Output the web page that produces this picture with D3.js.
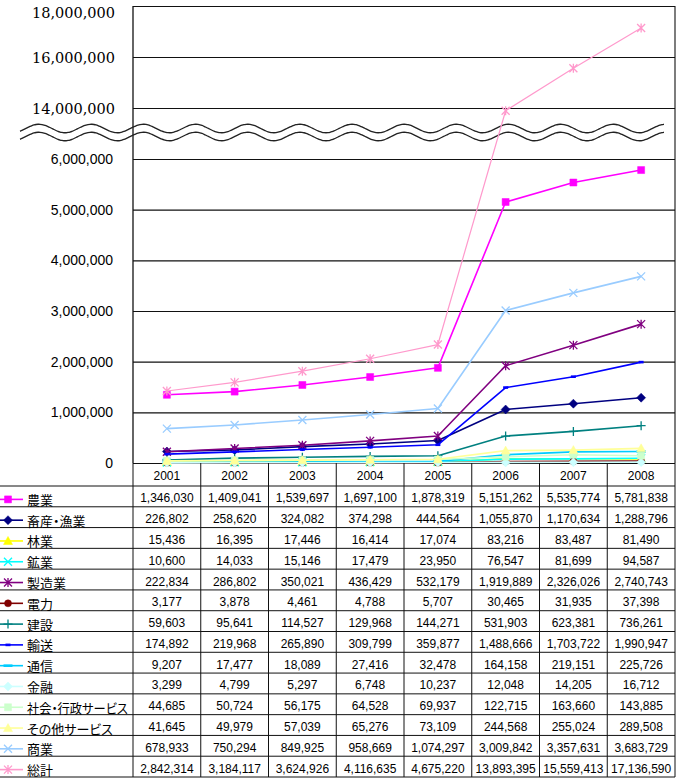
<!DOCTYPE html>
<meta charset="utf-8">
<style>
body { margin: 0; background: #fff; }
.grid line { stroke: #111; stroke-width: 1.1; }
.tbl line { stroke: #111; stroke-width: 1; }
.num { font-family: "Liberation Sans", Arial, sans-serif; font-size: 12px; fill: #000; }
.lab { font-family: "Noto Sans CJK JP", sans-serif; font-size: 13px; font-feature-settings: "palt"; fill: #000; }
</style>
<svg width="678" height="783"></svg>
<script src="https://d3js.org/d3.v7.min.js"></script>
<script>
var years = ["2001", "2002", "2003", "2004", "2005", "2006", "2007", "2008"];

var agriculture   = [1346030, 1409041, 1539697, 1697100, 1878319, 5151262, 5535774, 5781838];
var livestock     = [226802, 258620, 324082, 374298, 444564, 1055870, 1170634, 1288796];
var forestry      = [15436, 16395, 17446, 16414, 17074, 83216, 83487, 81490];
var mining        = [10600, 14033, 15146, 17479, 23950, 76547, 81699, 94587];
var manufacturing = [222834, 286802, 350021, 436429, 532179, 1919889, 2326026, 2740743];
var power         = [3177, 3878, 4461, 4788, 5707, 30465, 31935, 37398];
var construction  = [59603, 95641, 114527, 129968, 144271, 531903, 623381, 736261];
var transport     = [174892, 219968, 265890, 309799, 359877, 1488666, 1703722, 1990947];
var telecom       = [9207, 17477, 18089, 27416, 32478, 164158, 219151, 225726];
var finance       = [3299, 4799, 5297, 6748, 10237, 12048, 14205, 16712];
var socialSvc     = [44685, 50724, 56175, 64528, 69937, 122715, 163660, 143885];
var otherSvc      = [41645, 49979, 57039, 65276, 73109, 244568, 255024, 289508];
var commerce      = [678933, 750294, 849925, 958669, 1074297, 3009842, 3357631, 3683729];
var total         = [2842314, 3184117, 3624926, 4116635, 4675220, 13893395, 15559413, 17136590];
// the total line as it is plotted in the picture (2001-2005 sit lower than the table says)
var totalPlotted  = [1421000, 1592000, 1812000, 2058000, 2338000, 13893395, 15559413, 17136590];

var lowTicks  = [0, 1000000, 2000000, 3000000, 4000000, 5000000, 6000000];
var highTicks = [14000000, 16000000, 18000000];

var series = [
  { name: "農業",           table: agriculture,   plot: agriculture,   color: "#FF00FF", mark: "square" },
  { name: "畜産・漁業",     table: livestock,     plot: livestock,     color: "#000080", mark: "diamond" },
  { name: "林業",           table: forestry,      plot: forestry,      color: "#FFFF00", mark: "triangle" },
  { name: "鉱業",           table: mining,        plot: mining,        color: "#00FFFF", mark: "x" },
  { name: "製造業",         table: manufacturing, plot: manufacturing, color: "#800080", mark: "star" },
  { name: "電力",           table: power,         plot: power,         color: "#800000", mark: "circle" },
  { name: "建設",           table: construction,  plot: construction,  color: "#008080", mark: "plus" },
  { name: "輸送",           table: transport,     plot: transport,     color: "#0000FF", mark: "dash" },
  { name: "通信",           table: telecom,       plot: telecom,       color: "#00CCFF", mark: "longdash" },
  { name: "金融",           table: finance,       plot: finance,       color: "#CCFFFF", mark: "diamond" },
  { name: "社会・行政サービス", table: socialSvc, plot: socialSvc,     color: "#CCFFCC", mark: "square" },
  { name: "その他サービス", table: otherSvc,      plot: otherSvc,      color: "#FFFF99", mark: "triangle" },
  { name: "商業",           table: commerce,      plot: commerce,      color: "#99CCFF", mark: "x" },
  { name: "総計",           table: total,         plot: totalPlotted,  color: "#FF99CC", mark: "star" }
];

var svg = d3.select("svg");
var left = 133, right = 675;
var fmt = d3.format(",");

// broken value axis: lower part 0..6M, upper part 14M..18M
var yLo = d3.scaleLinear().domain([0, 6000000]).range([463, 159]);
var yHi = d3.scaleLinear().domain([14000000, 18000000]).range([108, 6]);
function y(v) { return v > 6000000 ? yHi(v) : yLo(v); }

var x = d3.scaleBand().domain(years).range([left, right]);
function cx(d) { return x(d) + x.bandwidth() / 2; }

// gridlines + labels
var gLo = svg.append("g").attr("class", "grid")
    .attr("transform", "translate(" + left + ",0)")
    .call(d3.axisLeft(yLo).tickValues(lowTicks).tickFormat(fmt)
      .tickSize(-(right - left)).tickPadding(20));
gLo.select(".domain").remove();
gLo.attr("font-family", null).attr("font-size", null);
gLo.selectAll(".tick text")
    .style("font-family", "'Liberation Sans', Arial, sans-serif")
    .style("font-size", "14px").style("fill", "#000");

var gHi = svg.append("g").attr("class", "grid")
    .attr("transform", "translate(" + left + ",0)")
    .call(d3.axisLeft(yHi).tickValues(highTicks).tickFormat(fmt)
      .tickSize(-(right - left)).tickPadding(18));
gHi.select(".domain").remove();
gHi.attr("font-family", null).attr("font-size", null);
gHi.selectAll(".tick text")
    .style("font-family", "'DejaVu Serif', 'Liberation Serif', serif")
    .style("font-size", "14.5px").style("fill", "#000")
    .attr("y", function(d) { return d === 18000000 ? 7 : 1; });

svg.append("line").attr("x1", left).attr("x2", left).attr("y1", yHi(18000000)).attr("y2", yLo(0))
    .attr("stroke", "#111").attr("stroke-width", 1.3);
svg.append("line").attr("x1", right).attr("x2", right).attr("y1", yHi(18000000)).attr("y2", yLo(0))
    .attr("stroke", "#111").attr("stroke-width", 1.1);

// break marks
var wave = d3.line().curve(d3.curveBasis);
[128.5, 136.5].forEach(function(c) {
  var pts = d3.range(20, 666, 2).map(function(px) {
    return [px, c - 4.3 * Math.cos(2 * Math.PI * (px - 143.3) / 52.2)];
  });
  svg.append("path").attr("d", wave(pts)).attr("fill", "none")
    .attr("stroke", "#222").attr("stroke-width", 1.3);
});

// markers
var markPaths = {
  square:   "M-3.5,-3.5h7v7h-7Z",
  diamond:  "M0,-4.5L4.5,0L0,4.5L-4.5,0Z",
  triangle: "M0,-4.5L4.5,3.5L-4.5,3.5Z",
  circle:   "M3.5,0A3.5,3.5 0 1,1 -3.5,0A3.5,3.5 0 1,1 3.5,0Z",
  x:        "M-4,-4L4,4M4,-4L-4,4",
  star:     "M-4,-4L4,4M4,-4L-4,4M0,-4.5V4.5",
  plus:     "M-4.5,0H4.5M0,-4.5V4.5",
  dash:     "M-2.5,0H2.5",
  longdash: "M-4.5,0H4.5"
};
function drawMark(g, s) {
  var filled = ["square", "diamond", "triangle", "circle"].indexOf(s.mark) >= 0;
  var dashy = s.mark === "dash" || s.mark === "longdash";
  g.append("path").attr("d", markPaths[s.mark])
    .attr("fill", filled ? s.color : "none")
    .attr("stroke", s.color)
    .attr("stroke-width", dashy ? 2.6 : (filled ? 0.5 : 1.3));
}

// series lines
var line = d3.line().x(function(d, i) { return cx(years[i]); }).y(function(d) { return y(d); });
series.forEach(function(s) {
  var g = svg.append("g");
  g.append("path").attr("d", line(s.plot)).attr("fill", "none")
    .attr("stroke", s.color).attr("stroke-width", s.name === "総計" ? 1.2 : 1.6)
    .attr("stroke-linejoin", "round");
  s.plot.forEach(function(v, i) {
    drawMark(g.append("g").attr("transform", "translate(" + cx(years[i]) + "," + y(v) + ")"), s);
  });
});

// data table
var tableTop = 463, headBottom = 486, tableBottom = 777;
var rows = d3.scaleBand().domain(series.map(function(s) { return s.name; }))
    .range([headBottom, tableBottom]);
var tbl = svg.append("g").attr("class", "tbl");

years.concat(["end"]).forEach(function(d, i) {
  var px = i < years.length ? x(d) : right;
  tbl.append("line").attr("x1", px).attr("x2", px).attr("y1", tableTop).attr("y2", tableBottom);
});
series.forEach(function(s) {
  tbl.append("line").attr("x1", 0).attr("x2", right).attr("y1", rows(s.name)).attr("y2", rows(s.name));
});
tbl.append("line").attr("x1", 0).attr("x2", right).attr("y1", tableBottom).attr("y2", tableBottom);

tbl.selectAll(".yr").data(years).enter().append("text").attr("class", "num")
    .attr("x", cx).attr("y", (tableTop + headBottom) / 2 + 1)
    .attr("text-anchor", "middle").attr("dominant-baseline", "central")
    .text(function(d) { return d; });

series.forEach(function(s) {
  var cy = rows(s.name) + rows.bandwidth() / 2 + 2;
  s.table.forEach(function(v, i) {
    tbl.append("text").attr("class", "num").attr("x", cx(years[i])).attr("y", cy)
      .attr("text-anchor", "middle").attr("dominant-baseline", "central").text(fmt(v));
  });
  var key = tbl.append("g");
  key.append("line").attr("x1", 0).attr("x2", 23).attr("y1", cy + 1).attr("y2", cy + 1)
    .style("stroke", s.color).style("stroke-width", 1.6);
  drawMark(key.append("g").attr("transform", "translate(8," + (cy + 1) + ")"), s);
  var t = tbl.append("text").attr("class", "lab").attr("x", 27).attr("y", cy + 1)
    .attr("dominant-baseline", "central").text(s.name);
  if (t.node().getComputedTextLength() > 101) {
    t.attr("textLength", 101).attr("lengthAdjust", "spacingAndGlyphs");
  }
});
</script>
